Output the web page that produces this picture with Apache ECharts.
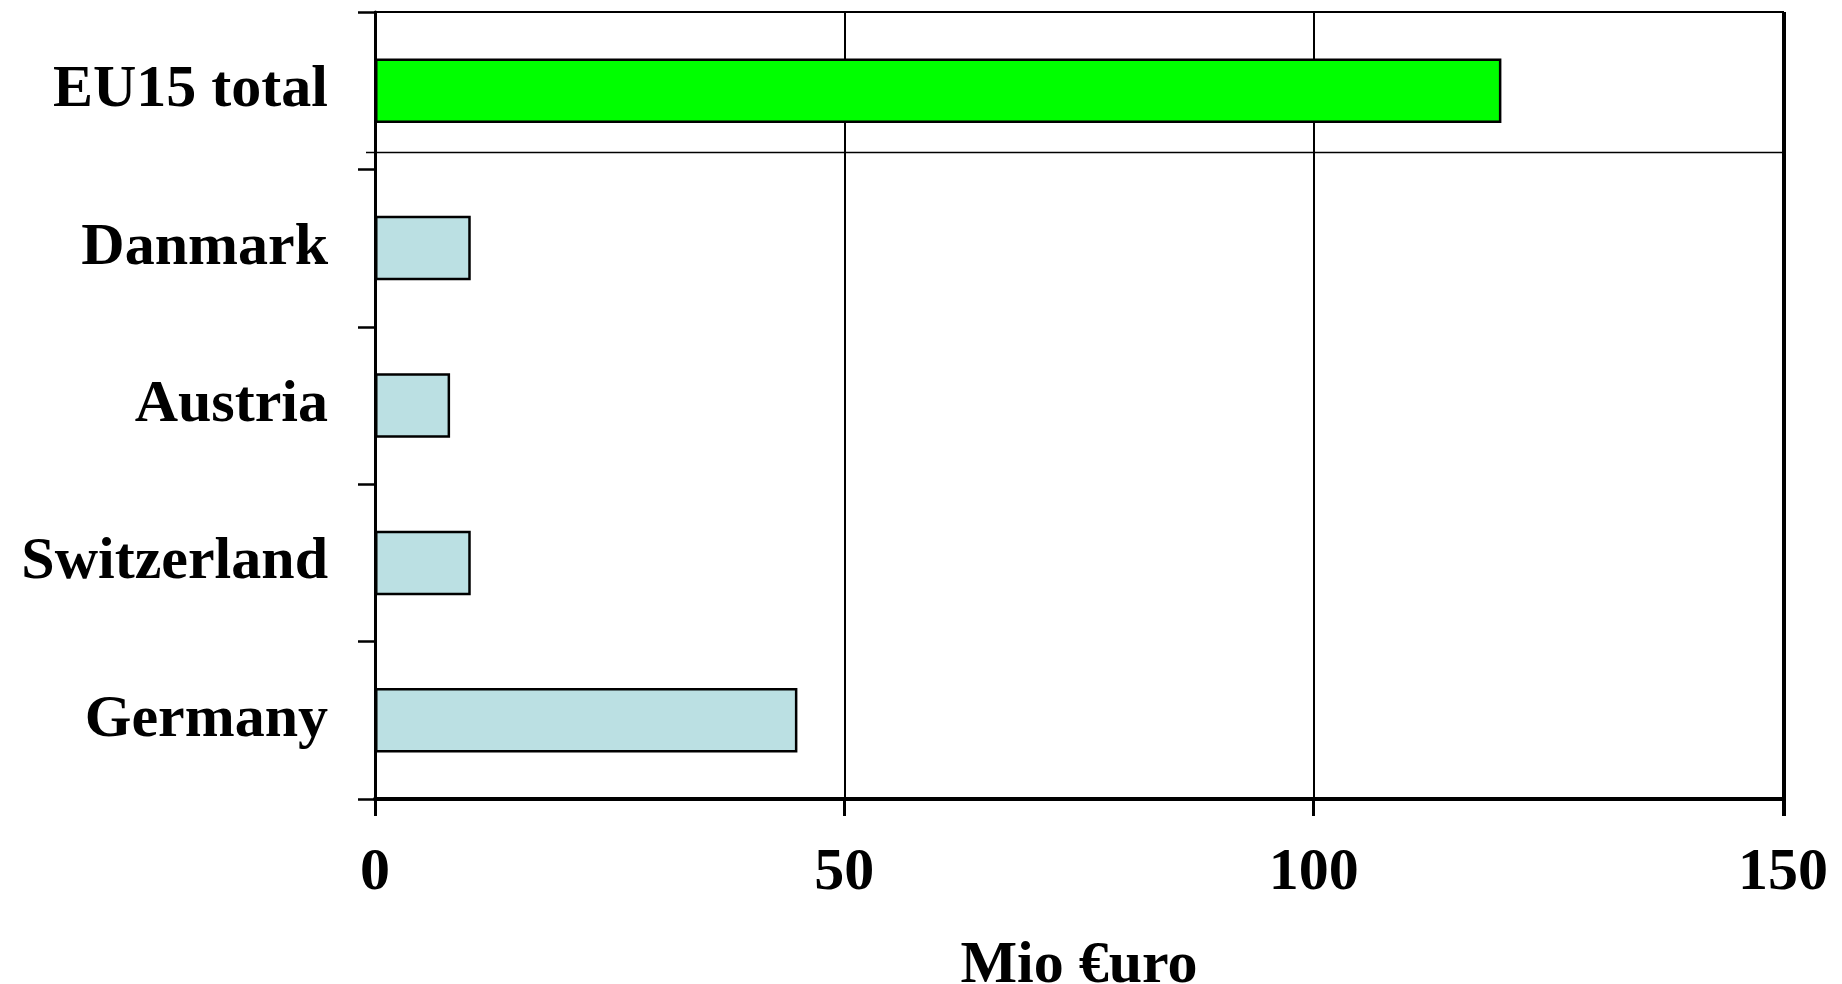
<!DOCTYPE html>
<html>
<head>
<meta charset="utf-8">
<title>Mio €uro</title>
<script src="https://cdn.jsdelivr.net/npm/echarts@6/dist/echarts.min.js"></script>
<style>
  html, body { margin: 0; padding: 0; background: #ffffff; }
  #chart { width: 1842px; height: 984px; }
</style>
</head>
<body>
<div id="chart"></div>
<script>
// Categories listed bottom to top
const categories = ['Germany', 'Switzerland', 'Austria', 'Danmark', 'EU15 total'];
const values = [45, 10.2, 8, 10.2, 120];
const barColors = ['#BBE0E3', '#BBE0E3', '#BBE0E3', '#BBE0E3', '#00FF00'];
const xTicks = { min: 0, max: 150, interval: 50 };
const xAxisTitle = 'Mio €uro';

const FONT = '"Liberation Serif", "Times New Roman", serif';

const chart = echarts.init(document.getElementById('chart'), null, { renderer: 'canvas' });

const option = {
  backgroundColor: '#ffffff',
  animation: false,
  grid: {
    left: 375, right: 59, top: 12, bottom: 185,
    containLabel: false,
    outerBoundsMode: 'none',
    show: true, borderColor: '#000', borderWidth: 2, backgroundColor: 'transparent'
  },
  xAxis: {
    type: 'value',
    min: xTicks.min, max: xTicks.max, interval: xTicks.interval,
    name: xAxisTitle,
    nameLocation: 'middle',
    nameGap: 137,
    nameTextStyle: { fontFamily: FONT, fontWeight: 'bold', fontSize: 60, color: '#000' },
    axisLine: { show: true, lineStyle: { color: '#000', width: 4 } },
    axisTick: { show: true, inside: false, length: 17, lineStyle: { color: '#000', width: 3 } },
    axisLabel: { fontFamily: FONT, fontWeight: 'bold', fontSize: 60, color: '#000', margin: 44 },
    splitLine: { show: true, lineStyle: { color: '#000', width: 2 } }
  },
  yAxis: {
    type: 'category',
    data: categories,
    axisLine: { show: true, lineStyle: { color: '#000', width: 3 } },
    axisTick: { show: true, inside: false, length: 17, alignWithLabel: false, lineStyle: { color: '#000', width: 2.5 } },
    axisLabel: { fontFamily: FONT, fontWeight: 'bold', fontSize: 60, color: '#000', margin: 47 },
    splitLine: { show: false }
  },
  series: [{
    type: 'bar',
    barCategoryGap: '59%',
    data: values.map((v, i) => ({
      value: v,
      itemStyle: { color: barColors[i], borderColor: '#000', borderWidth: 2.5 }
    }))
  }]
};

chart.setOption(option);

// Separator rule under the total bar and the heavier right frame edge
function drawFrameExtras() {
  const top = chart.convertToPixel({ gridIndex: 0 }, [xTicks.max, categories.length - 1]);
  const next = chart.convertToPixel({ gridIndex: 0 }, [xTicks.min, categories.length - 2]);
  const band = next[1] - top[1];
  const sepY = Math.round(top[1] + band * 0.39) + 0.5;
  const leftX = next[0];
  const rightX = top[0];
  const gridTop = 12;
  const gridBottom = 984 - 185;
  chart.setOption({
    graphic: [
      {
        type: 'line', z: 10,
        shape: { x1: leftX - 9, y1: sepY, x2: rightX, y2: sepY },
        style: { stroke: '#000', lineWidth: 1.5 }
      },
      {
        type: 'line', z: 10,
        shape: { x1: rightX + 1, y1: gridTop, x2: rightX + 1, y2: gridBottom + 17 },
        style: { stroke: '#000', lineWidth: 4 }
      }
    ]
  });
}
drawFrameExtras();
</script>
</body>
</html>
